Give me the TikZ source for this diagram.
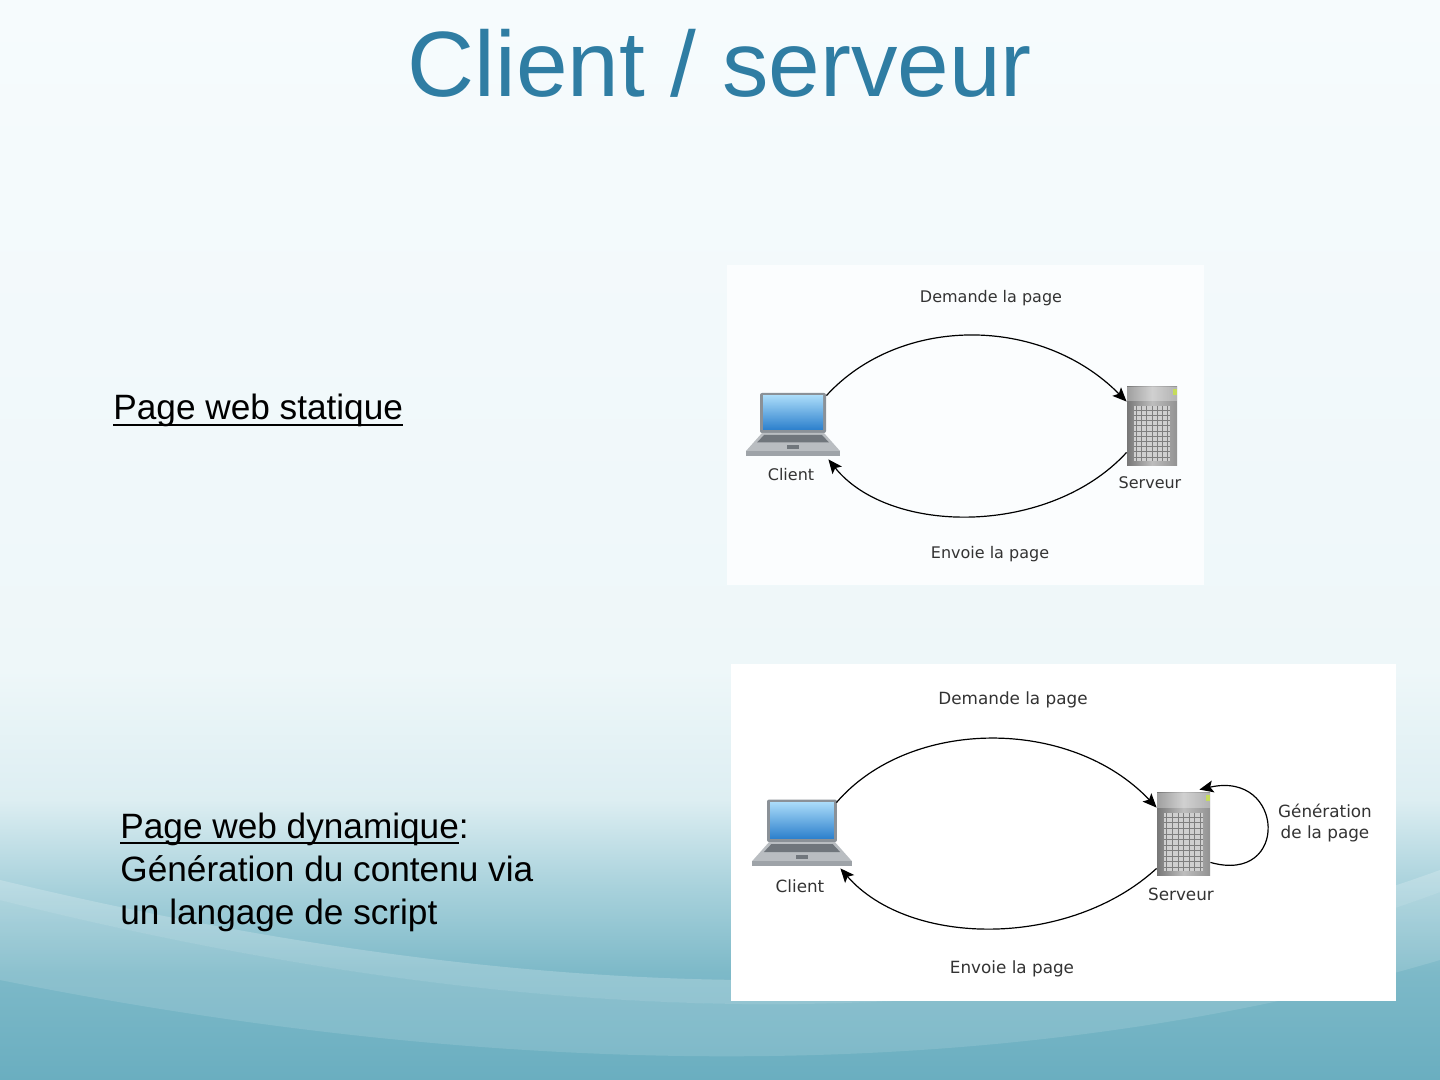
\documentclass[tikz,border=0pt]{standalone}
\usepackage{fontspec}
\setmainfont{Liberation Sans}
\newfontfamily\labelfont{DejaVu Sans}
\usetikzlibrary{arrows.meta,calc}
\newcommand{\souligne}[1]{\setbox0\hbox{#1}\rlap{\vrule height -2.2pt depth 3.2pt width \wd0}\box0}

\definecolor{titleblue}{HTML}{2F7DA3}
\definecolor{bgtop}{HTML}{F6FBFD}
\definecolor{bgmid}{HTML}{EEF7F9}
\definecolor{bgpale}{HTML}{DDEEF2}
\definecolor{bglight}{HTML}{A9D2DC}
\definecolor{bgteal}{HTML}{7DB9C8}
\definecolor{bgdeep}{HTML}{6AAEC0}
\definecolor{labelgray}{HTML}{333333}
\definecolor{lidgray}{HTML}{8B9197}
\definecolor{screenhi}{HTML}{A8DAF8}
\definecolor{screenlo}{HTML}{2B7FCC}
\definecolor{deckgray}{HTML}{B9BDC1}
\definecolor{keygray}{HTML}{70767C}
\definecolor{lipgray}{HTML}{9EA3A8}
\definecolor{towerdark}{HTML}{777777}
\definecolor{towerlight}{HTML}{BDBDBD}
\definecolor{towercell}{HTML}{CFCFCF}
\definecolor{towergrid}{HTML}{7E7E7E}
\definecolor{ledgreen}{HTML}{C5DC5A}

\pgfdeclareverticalshading{slidebg}{100bp}{color(0bp)=(bgdeep); color(25bp)=(bgdeep);
  color(30bp)=(bgteal); color(34bp)=(bglight); color(38bp)=(bgpale); color(44bp)=(bgmid);
  color(75bp)=(bgtop); color(100bp)=(bgtop)}

\tikzset{
  flow/.style={-{Stealth[length=7pt,width=6pt,inset=1.5pt]}, line width=0.6pt, black},
  lbl/.style={font=\labelfont\fontsize{8}{10}\selectfont, text=labelgray, inner sep=0},
  lblbig/.style={font=\labelfont\fontsize{8.4}{10.5}\selectfont, text=labelgray, inner sep=0},
  slidetext/.style={font=\fontsize{17.6}{21.5}\selectfont, anchor=base west, inner sep=0},
  laptopbox/.style={minimum width=47pt, minimum height=31.5pt, inner sep=0},
  towerbox/.style={minimum width=25pt, minimum height=39pt, inner sep=0},
  laptop/.pic={
    \fill[lidgray, rounded corners=1pt] (-33,-31.5) rectangle (33,8.5);
    \shade[top color=screenhi, bottom color=screenlo] (-30,-28.5) rectangle (30,5.5);
    \fill[deckgray] (-31,8.5) -- (31,8.5) -- (47,26.5) -- (-47,26.5) -- cycle;
    \fill[keygray] (-29,10.5) -- (29,10.5) -- (36,18) -- (-36,18) -- cycle;
    \fill[keygray] (-6,20.5) rectangle (6,24.5);
    \fill[lipgray] (-47,26.5) rectangle (47,31.5);
  },
  server/.pic={
    \shade[left color=towerdark, right color=towerdark!80!white, middle color=towerlight] (-25,-39) rectangle (25,39);
    \fill[white, opacity=.3] (-25,-39) rectangle (25,-25);
    \fill[towercell] (-18,-20) rectangle (18,35);
    \draw[towergrid, line width=0.5pt, xstep=2.6pt, ystep=2.6pt] (-18,-20) grid (18,35);
    \fill[ledgreen] (21,-37) rectangle (25,-31);
  }
}

\begin{document}
\begin{tikzpicture}[x=0.5pt, y=-0.5pt]
  \useasboundingbox (0,0) rectangle (1440,1080);
  % slide background
  \shade[shading=slidebg] (0,0) rectangle (1440,1080);
  \fill[white, opacity=.2] (0,880) .. controls (500,1000) and (1000,1030) .. (1440,870)
    -- (1440,892) .. controls (1000,1055) and (500,1025) .. (0,900) -- cycle;
  \fill[white, opacity=.12] (0,900) .. controls (500,1025) and (1000,1055) .. (1440,892)
    -- (1440,960) .. controls (1000,1090) and (500,1080) .. (0,980) -- cycle;

  \node[font=\fontsize{46.4}{50}\selectfont, text=titleblue, anchor=base, inner sep=0] (title) at (720,97) {Client / serveur};

  \node[slidetext] (statique) at (113,420) {\souligne{Page web statique}};
  \node[slidetext] (dyn1) at (120,838) {\souligne{Page web dynamique}:};
  \node[slidetext] (dyn2) at (120,881) {Génération du contenu via};
  \node[slidetext] (dyn3) at (120,924) {un langage de script};

  % static page
  \fill[white!60!bgtop] (727,265) rectangle (1204,585);
  \node[laptopbox] (client1) at (793,424.5) {};
  \node[towerbox] (serveur1) at (1152,426) {};
  \pic at (client1) {laptop};
  \pic at (serveur1) {server};
  \node[lbl] (cl1) at (791,475) {Client};
  \node[lbl] (sv1) at (1150,483) {Serveur};
  \node[lbl] (dem1) at (991,298) {Demande la page};
  \node[lbl] (env1) at (990,554) {Envoie la page};
  \draw[flow] ($(client1.north east)+(-14,3)$) .. controls (900,315) and (1041,315) .. ($(serveur1.north west)+(0,15)$);
  \draw[flow] ($(serveur1.south west)+(0,-13)$) .. controls (1050,536) and (890,536) .. ($(client1.south east)+(-12,3)$);

  % dynamic page
  \fill[white] (731,664) rectangle (1396,1001);
  \node[laptopbox, minimum width=50pt, minimum height=33pt] (client2) at (802,833) {};
  \node[towerbox, minimum width=26.5pt, minimum height=41pt] (serveur2) at (1183.5,834) {};
  \pic[scale=1.06] at (client2) {laptop};
  \pic[scale=1.06] at (serveur2) {server};
  \node[lblbig] (cl2) at (800,886) {Client};
  \node[lblbig] (sv2) at (1181,894) {Serveur};
  \node[lblbig] (dem2) at (1013,700) {Demande la page};
  \node[lblbig] (env2) at (1012,969) {Envoie la page};
  \node[lblbig, align=center] (gen2) at (1325,823) {Génération\\de la page};
  \draw[flow] ($(client2.north east)+(-16,3)$) .. controls (910,717) and (1071,717) .. ($(serveur2.north west)+(0,15)$);
  \draw[flow] ($(serveur2.south west)+(0,-7)$) .. controls (1070,948) and (910,948) .. ($(client2.south east)+(-12,2)$);
  \draw[flow] ($(serveur2.south east)+(0,-13)$) .. controls (1290,885) and (1285,770) .. ($(serveur2.north east)+(-11,-3)$);
\end{tikzpicture}
\end{document}
